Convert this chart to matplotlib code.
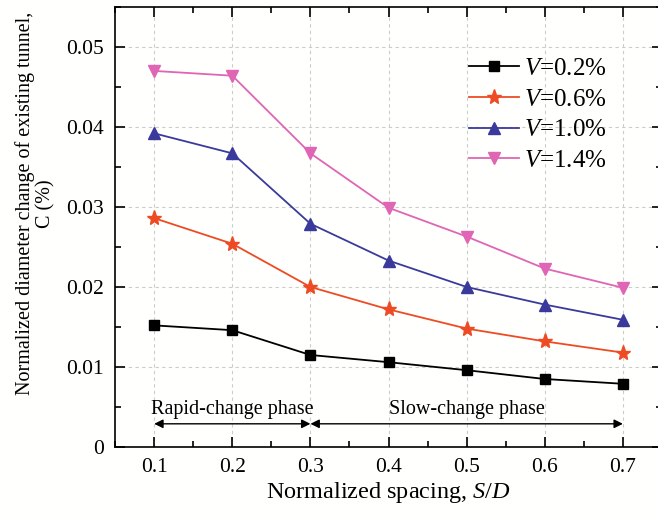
import matplotlib
matplotlib.use("Agg")
import matplotlib.pyplot as plt
from matplotlib.ticker import MultipleLocator

# ── Data ───────────────────────────────────────────────────
SPACING = [0.1, 0.2, 0.3, 0.4, 0.5, 0.6, 0.7]
V02 = [0.0152, 0.0146, 0.0115, 0.0106, 0.0096, 0.0085, 0.0079]
V06 = [0.0286, 0.0254, 0.0200, 0.0172, 0.0148, 0.0132, 0.0118]
V10 = [0.0392, 0.0367, 0.0279, 0.0233, 0.0200, 0.0178, 0.0159]
V14 = [0.0470, 0.0464, 0.0367, 0.0299, 0.0263, 0.0223, 0.0199]
SERIES_LABELS = ["0.2%", "0.6%", "1.0%", "1.4%"]

PHASE_RAPID = (0.1, 0.3)
PHASE_SLOW = (0.3, 0.7)

plt.rcParams['font.family'] = ['Liberation Serif', 'DejaVu Serif']
plt.rcParams['mathtext.fontset'] = 'custom'
plt.rcParams['mathtext.rm'] = 'Liberation Serif'
plt.rcParams['mathtext.it'] = 'Liberation Serif:italic'

fig = plt.figure(figsize=(6.58, 5.19), dpi=100, facecolor='#fffffd')
ax = fig.add_axes([0.175, 0.1387, 0.831, 0.848])
ax.set_facecolor('#fffffd')

colors  = ['#000000', '#EE4B24', '#3A3A9C', '#E065B4']
markers = ['s', '*', '^', 'v']
msizes  = [7, 11, 8, 8]

for vals, lab, c, m, ms in zip([V02, V06, V10, V14], SERIES_LABELS,
                               colors, markers, msizes):
    ax.plot(SPACING, vals, color=c, marker=m, markersize=ms, lw=1.3,
            label=r"$\mathit{V}$=" + lab)

# phase arrows
y_arr = 0.0029
arrow_kw = dict(arrowstyle='<|-|>', color='black', lw=1.0,
                mutation_scale=13, shrinkA=0, shrinkB=0)
ax.annotate('', xy=(PHASE_RAPID[1], y_arr), xytext=(PHASE_RAPID[0], y_arr),
            arrowprops=arrow_kw)
ax.annotate('', xy=(PHASE_SLOW[1], y_arr), xytext=(PHASE_SLOW[0], y_arr),
            arrowprops=arrow_kw)
ax.text(sum(PHASE_RAPID) / 2, 0.0035, "Rapid-change phase", ha='center',
        va='bottom', fontsize=14.5)
ax.text(0.5, 0.0035, "Slow-change phase", ha='center', va='bottom',
        fontsize=14.5)

ax.set_xlim(0.05, 0.75)
ax.set_ylim(0, 0.055)
ax.xaxis.set_minor_locator(MultipleLocator(0.05))
ax.yaxis.set_minor_locator(MultipleLocator(0.005))
ax.set_xticks(SPACING)
ax.set_xticklabels([f"{v:.1f}" for v in SPACING])
ax.set_yticks([0, 0.01, 0.02, 0.03, 0.04, 0.05])
ax.set_yticklabels(['0', '0.01', '0.02', '0.03', '0.04', '0.05'])

ax.tick_params(which='both', direction='in', top=True, right=True,
               labelsize=15.5, width=1.2)
ax.tick_params(which='major', length=7, pad=8)
ax.tick_params(which='minor', length=4)
for s in ax.spines.values():
    s.set_linewidth(1.2)

ax.grid(True, which='major', ls=(0, (3, 3)), color='#cccccc', lw=0.8)
ax.set_axisbelow(True)

ax.set_xlabel(r"Normalized spacing, $\mathit{S/D}$", fontsize=17.5,
              labelpad=2)
ax.set_ylabel("Normalized diameter change of existing tunnel,\nC (%)",
              fontsize=14.5, linespacing=1.05)
ax.yaxis.set_label_coords(-0.11, 0.553)

ax.legend(loc='upper right', bbox_to_anchor=(0.93, 0.925), frameon=False,
          fontsize=18, handlelength=2.0, handletextpad=0.2,
          labelspacing=0.33, borderpad=0.2)

fig.savefig("out.png", dpi=100, facecolor=fig.get_facecolor())
